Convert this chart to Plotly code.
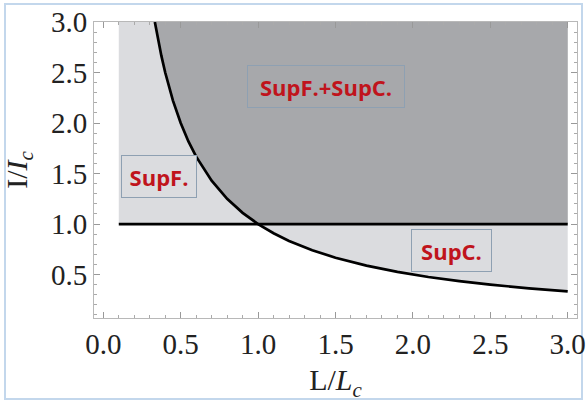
import plotly.graph_objects as go

# Boundary curve (I/Ic vs L/Lc)
curve_x = [0.333, 0.35, 0.375, 0.4, 0.45, 0.5, 0.55, 0.6, 0.7, 0.8, 0.9, 1.0,
           1.1, 1.2, 1.35, 1.5, 1.7, 1.9, 2.1, 2.3, 2.5, 2.75, 3.0]
curve_y = [3.0, 2.857, 2.667, 2.5, 2.222, 2.0, 1.818, 1.667, 1.429, 1.25, 1.111, 1.0,
           0.909, 0.833, 0.741, 0.667, 0.588, 0.526, 0.476, 0.435, 0.4, 0.364, 0.333]

# Horizontal boundary I = Ic
hline_x = [0.1, 3.0]
hline_y = [1.0, 1.0]

# Region extents
x_min, x_max, y_top = 0.1, 3.0, 3.0

# Labels
label_text = ["SupF.", "SupF.+SupC.", "SupC."]
label_x = [0.36, 1.44, 2.25]
label_y = [1.47, 2.36, 0.74]

x_ticks = [0.0, 0.5, 1.0, 1.5, 2.0, 2.5, 3.0]
y_ticks = [0.5, 1.0, 1.5, 2.0, 2.5, 3.0]
x_tick_text = ["0.0", "0.5", "1.0", "1.5", "2.0", "2.5", "3.0"]
y_tick_text = ["0.5", "1.0", "1.5", "2.0", "2.5", "3.0"]

left = [(x, y) for x, y in zip(curve_x, curve_y) if x <= 1.0]
right = [(x, y) for x, y in zip(curve_x, curve_y) if x >= 1.0]

# Light region: I above min(1, 1/L)
lx = [x_min, x_min, x_max] + [p[0] for p in reversed(right)] + [x_min]
ly = [hline_y[0], y_top, y_top] + [p[1] for p in reversed(right)] + [hline_y[0]]
# Dark region: I above max(1, 1/L)
dx = [x_max, x_max] + [p[0] for p in reversed(left)]
dy = [y_top, hline_y[0]] + [p[1] for p in reversed(left)]

LIGHT = "#dbdcdf"
DARK = "#a7a8ab"
SERIF = "Liberation Serif"

fig = go.Figure()
fig.add_trace(go.Scatter(x=lx, y=ly, fill="toself", fillcolor=LIGHT, mode="none",
                         hoverinfo="skip", showlegend=False))
fig.add_trace(go.Scatter(x=dx, y=dy, fill="toself", fillcolor=DARK, mode="none",
                         hoverinfo="skip", showlegend=False))
fig.add_trace(go.Scatter(x=hline_x, y=hline_y, mode="lines",
                         line=dict(color="black", width=2.7), showlegend=False))
fig.add_trace(go.Scatter(x=curve_x, y=curve_y, mode="lines",
                         line=dict(color="black", width=2.7), showlegend=False))

box_bg = [LIGHT, DARK, LIGHT]
box_w = [72, 154, 77]
for t, x, y, bg, w in zip(label_text, label_x, label_y, box_bg, box_w):
    fig.add_annotation(x=x, y=y, text="<b>%s</b>" % t, showarrow=False,
                       font=dict(family="Open Sans", size=22, color="#c0141c"),
                       bgcolor=bg, bordercolor="#8ea0b2", borderwidth=1,
                       width=w, height=39, borderpad=1)

fig.update_xaxes(
    range=[-0.06, 3.06], tickmode="array", tickvals=x_ticks, ticktext=x_tick_text,
    showgrid=False, zeroline=False, showline=True, linecolor="#b8b8b8", linewidth=1,
    mirror="ticks", ticks="inside", ticklen=6, tickcolor="#999999",
    tickfont=dict(family=SERIF, size=29, color="#222222"),
    minor=dict(dtick=0.1, ticks="inside", ticklen=3, tickcolor="#aaaaaa"),
    title=dict(text="L/<i>L</i><sub><i>c</i></sub>",
               font=dict(family=SERIF, size=30, color="#222222"), standoff=10))
fig.update_yaxes(
    range=[0.07, 3.0], tickmode="array", tickvals=y_ticks, ticktext=y_tick_text,
    showgrid=False, zeroline=False, showline=True, linecolor="#b8b8b8", linewidth=1,
    mirror="ticks", ticks="inside", ticklen=6, tickcolor="#999999",
    tickfont=dict(family=SERIF, size=29, color="#222222"),
    minor=dict(dtick=0.1, ticks="inside", ticklen=3, tickcolor="#aaaaaa"),
    title=dict(text="I/<i>I</i><sub><i>c</i></sub>",
               font=dict(family=SERIF, size=30, color="#222222"), standoff=16))

# Light blue page border
fig.add_shape(type="rect", xref="paper", yref="paper",
              x0=(5 - 94) / 483, x1=(582 - 94) / 483,
              y0=(318 - 399) / 296, y1=(318 - 4) / 296,
              line=dict(color="#c3d7ec", width=2), fillcolor="rgba(0,0,0,0)", layer="below")

fig.update_layout(width=587, height=403,
                  font=dict(family=SERIF, size=25, color="#222222"),
                  margin=dict(l=94, r=10, t=22, b=85, autoexpand=False),
                  plot_bgcolor="white", paper_bgcolor="white")

fig.write_html("out.html", config={"displayModeBar": False},
               post_script="document.body.style.margin='0px';")
